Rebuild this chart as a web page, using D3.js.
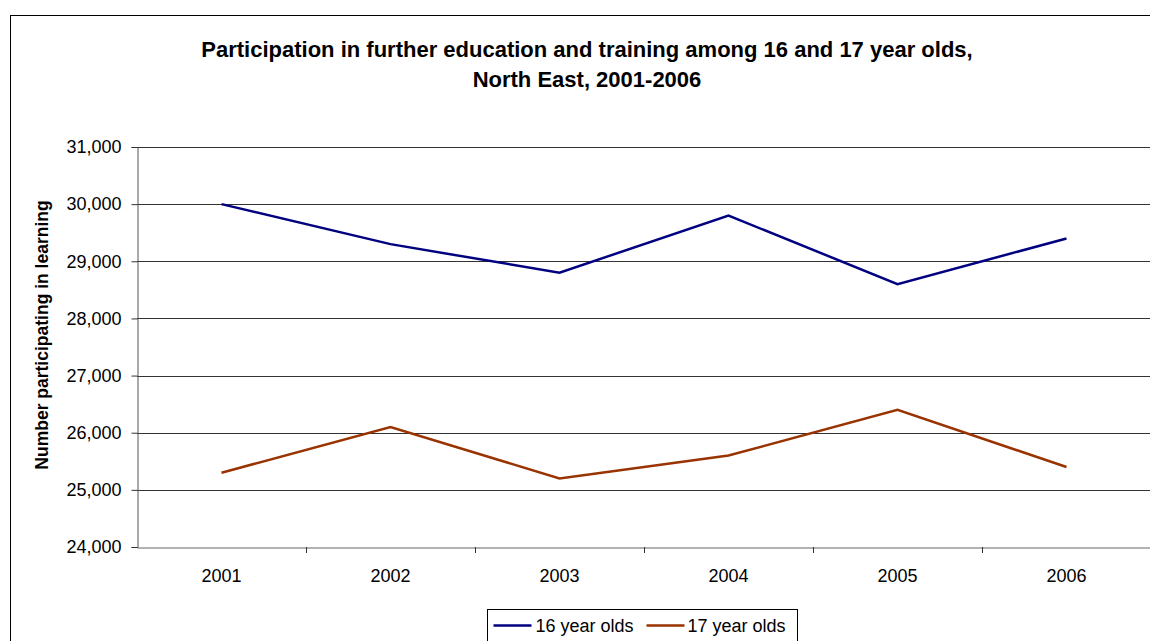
<!DOCTYPE html>
<html>
<head>
<meta charset="utf-8">
<script src="https://cdn.jsdelivr.net/npm/d3@7"></script>
<style>
  html, body { margin: 0; padding: 0; background: #fff; overflow: hidden; }
  svg { display: block; font-family: "Liberation Sans", Arial, sans-serif; }
</style>
</head>
<body>
<svg id="chart" width="1150" height="641"></svg>
<script>
// Participation counts by year
const years = ["2001", "2002", "2003", "2004", "2005", "2006"];
const sixteen = [30000, 29300, 28800, 29800, 28600, 29400];
const seventeen = [25300, 26100, 25200, 25600, 26400, 25400];
const seriesNames = ["16 year olds", "17 year olds"];
const yTicks = [24000, 25000, 26000, 27000, 28000, 29000, 30000, 31000];

const series = [
  { name: seriesNames[0], values: sixteen, color: "#000080" },
  { name: seriesNames[1], values: seventeen, color: "#993300" }
];

const FONT = "Liberation Sans, Arial, sans-serif";
const svg = d3.select("#chart");

// Outer chart frame (extends past the right/bottom edges)
svg.append("rect")
  .attr("x", 10.5).attr("y", 15.5)
  .attr("width", 1300).attr("height", 800)
  .attr("fill", "#fff").attr("stroke", "#000").attr("stroke-width", 1);

const plot = { left: 137, top: 147, right: 1151, bottom: 547 };

const x = d3.scaleBand().domain(years).range([plot.left, plot.right]);
const y = d3.scaleLinear().domain([24000, 31000]).range([plot.bottom, plot.top]);

// Title
const title = svg.append("text")
  .attr("text-anchor", "middle")
  .attr("font-weight", "bold")
  .attr("font-size", 22)
  .attr("fill", "#000");
title.append("tspan").attr("x", 587).attr("y", 57)
  .text("Participation in further education and training among 16 and 17 year olds,");
title.append("tspan").attr("x", 587).attr("y", 87)
  .text("North East, 2001-2006");

// Horizontal gridlines
svg.append("g")
  .selectAll("line")
  .data(yTicks.filter(d => d !== 24000))
  .join("line")
  .attr("x1", plot.left).attr("x2", plot.right)
  .attr("y1", d => Math.round(y(d)) + 0.5).attr("y2", d => Math.round(y(d)) + 0.5)
  .attr("stroke", "#333").attr("stroke-width", 1);

// Y axis
const yAxis = d3.axisLeft(y)
  .tickValues(yTicks)
  .tickSize(6)
  .tickPadding(10)
  .tickFormat(d3.format(","));
const gy = svg.append("g")
  .attr("transform", `translate(${plot.left + 0.5},0)`)
  .call(yAxis);
gy.select(".domain").attr("stroke", "#555");
gy.selectAll(".tick line").attr("stroke", "#333");
gy.selectAll(".tick text").attr("font-size", 18).attr("fill", "#000")
  .attr("font-family", FONT);

// X axis
const xAxis = d3.axisBottom(x).tickSize(0).tickPadding(22);
const gx = svg.append("g")
  .attr("transform", `translate(0,${plot.bottom + 0.5})`)
  .call(xAxis);
gx.select(".domain").attr("stroke", "#666");
gx.selectAll(".tick text").attr("font-size", 18).attr("fill", "#000")
  .attr("font-family", FONT);

// Category separators on the x axis
svg.append("g")
  .selectAll("line")
  .data(years.slice(1))
  .join("line")
  .attr("x1", d => Math.round(x(d)) + 0.5).attr("x2", d => Math.round(x(d)) + 0.5)
  .attr("y1", plot.bottom).attr("y2", plot.bottom + 6)
  .attr("stroke", "#333");

// Y axis title
svg.append("text")
  .attr("transform", `translate(48,${(plot.top + plot.bottom) / 2 - 12}) rotate(-90)`)
  .attr("text-anchor", "middle")
  .attr("font-weight", "bold")
  .attr("font-size", 17.5)
  .text("Number participating in learning");

// Series lines
const line = d3.line()
  .x((d, i) => x(years[i]) + x.bandwidth() / 2)
  .y(d => y(d));

svg.append("g")
  .selectAll("path")
  .data(series)
  .join("path")
  .attr("d", d => line(d.values))
  .attr("fill", "none")
  .attr("stroke", d => d.color)
  .attr("stroke-width", 2.5)
  .attr("stroke-linejoin", "miter");

// Legend
const legend = svg.append("g").attr("transform", "translate(487.5,609.5)");
legend.append("rect")
  .attr("width", 310).attr("height", 40)
  .attr("fill", "#fff").attr("stroke", "#000");
const items = [
  { s: series[0], lx: 6, tx: 48 },
  { s: series[1], lx: 159, tx: 200 }
];
items.forEach(it => {
  legend.append("line")
    .attr("x1", it.lx).attr("x2", it.lx + 38)
    .attr("y1", 16).attr("y2", 16)
    .attr("stroke", it.s.color).attr("stroke-width", 2.5);
  legend.append("text")
    .attr("x", it.tx).attr("y", 22)
    .attr("font-size", 18)
    .text(it.s.name);
});
</script>
</body>
</html>
